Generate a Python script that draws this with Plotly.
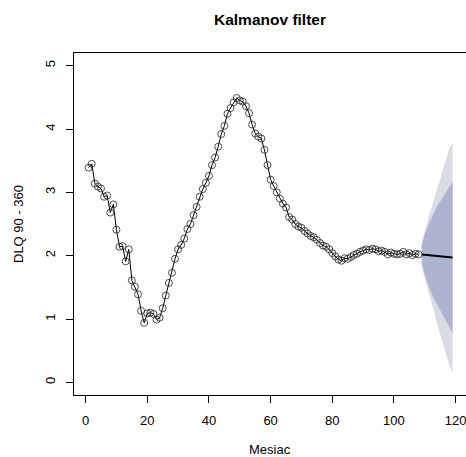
import plotly.graph_objects as go

# Observed DLQ 90-360 ratio by month
months = list(range(1, 109))
dlq = [
    3.39, 3.45, 3.14, 3.09, 3.06, 2.93, 2.95, 2.68, 2.81, 2.41,
    2.14, 2.15, 1.91, 2.10, 1.61, 1.51, 1.39, 1.13, 0.94, 1.09,
    1.10, 1.08, 0.99, 1.02, 1.17, 1.37, 1.57, 1.73, 1.95, 2.10,
    2.17, 2.27, 2.42, 2.50, 2.64, 2.77, 2.93, 3.05, 3.15, 3.26,
    3.43, 3.55, 3.72, 3.92, 4.05, 4.24, 4.33, 4.42, 4.49, 4.45,
    4.43, 4.36, 4.25, 4.07, 3.93, 3.88, 3.85, 3.67, 3.43, 3.20,
    3.10, 3.00, 2.90, 2.82, 2.76, 2.61, 2.57, 2.50, 2.46, 2.44,
    2.39, 2.35, 2.31, 2.29, 2.25, 2.20, 2.16, 2.14, 2.10, 2.04,
    1.99, 1.94, 1.92, 1.96, 1.95, 1.98, 2.01, 2.03, 2.06, 2.08,
    2.10, 2.09, 2.11, 2.10, 2.07, 2.08, 2.06, 2.02, 2.05, 2.03,
    2.02, 2.03, 2.06, 2.02, 2.04, 2.01, 2.03, 2.02,
]

# Kalman forecast with 80% and 95% intervals
fc_months = list(range(109, 120))
fc_mean = [2.02, 2.015, 2.01, 2.005, 2.00, 1.995, 1.99, 1.985, 1.98, 1.975, 1.97]
hi95 = [2.22, 2.40, 2.56, 2.73, 2.89, 3.06, 3.22, 3.39, 3.55, 3.70, 3.79]
lo95 = [1.82, 1.64, 1.46, 1.29, 1.11, 0.94, 0.76, 0.59, 0.41, 0.26, 0.15]
hi80 = [2.16, 2.34, 2.47, 2.59, 2.68, 2.78, 2.86, 2.94, 3.01, 3.09, 3.16]
lo80 = [1.88, 1.70, 1.55, 1.43, 1.32, 1.22, 1.12, 1.04, 0.95, 0.87, 0.78]

x_ticks = [0, 20, 40, 60, 80, 100, 120]
y_ticks = [0, 1, 2, 3, 4, 5]

W, H = 466, 457
ML, MT, MB = 74, 53, 62
PLOT_H = H - MT - MB          # 342 px
PLOT_W = W - ML               # 392 px
FONT = "Liberation Sans, Arial, sans-serif"


def px_to_paper_y(py):
    return (H - MB - py) / PLOT_H


def px_to_paper_x(px):
    return (px - ML) / PLOT_W


fig = go.Figure()

# 95% band
fig.add_trace(go.Scatter(
    x=fc_months + fc_months[::-1], y=hi95 + lo95[::-1],
    fill="toself", fillcolor="#DBDBE3", line=dict(width=0),
    mode="lines", hoverinfo="skip", showlegend=False))
# 80% band
fig.add_trace(go.Scatter(
    x=fc_months + fc_months[::-1], y=hi80 + lo80[::-1],
    fill="toself", fillcolor="#AFB3D2", line=dict(width=0),
    mode="lines", hoverinfo="skip", showlegend=False))
# forecast mean
fig.add_trace(go.Scatter(
    x=fc_months, y=fc_mean, mode="lines",
    line=dict(color="black", width=2), showlegend=False))
# observed series
fig.add_trace(go.Scatter(
    x=months, y=dlq, mode="lines+markers",
    line=dict(color="black", width=1),
    marker=dict(symbol="circle-open", size=7, color="#222222",
                line=dict(width=0.8, color="#222222")),
    showlegend=False))

axis_common = dict(
    showgrid=False, zeroline=False, showline=True, linecolor="black",
    linewidth=1, ticks="outside", ticklen=7, tickcolor="black",
    tickwidth=1, tickfont=dict(family=FONT, size=13, color="black"),
    ticklabeloverflow="allow",
)

fig.update_xaxes(range=[-3.76, 123.36], tickvals=x_ticks, mirror=True,
                 ticklabelstandoff=6, **axis_common)
fig.update_yaxes(range=[-0.2, 5.2], tickvals=y_ticks, tickangle=-90,
                 ticklabelstandoff=6, **axis_common)

fig.update_layout(
    width=W, height=H,
    margin=dict(l=ML, r=0, t=MT, b=MB, pad=0),
    plot_bgcolor="white", paper_bgcolor="white",
    font=dict(family=FONT, size=13, color="black"),
    annotations=[
        dict(text="<b>Kalmanov filter</b>", xref="paper", yref="paper",
             x=px_to_paper_x(270), y=px_to_paper_y(19),
             xanchor="center", yanchor="middle", showarrow=False,
             font=dict(family=FONT, size=15.5, color="black")),
        dict(text="Mesiac", xref="paper", yref="paper",
             x=px_to_paper_x(270), y=px_to_paper_y(450),
             xanchor="center", yanchor="middle", showarrow=False,
             font=dict(family=FONT, size=13, color="black")),
        dict(text="DLQ 90 - 360", xref="paper", yref="paper",
             x=px_to_paper_x(18), y=0.5, xanchor="center", yanchor="middle",
             textangle=-90, showarrow=False,
             font=dict(family=FONT, size=13, color="black")),
    ],
)

fig.write_html("out.html")
